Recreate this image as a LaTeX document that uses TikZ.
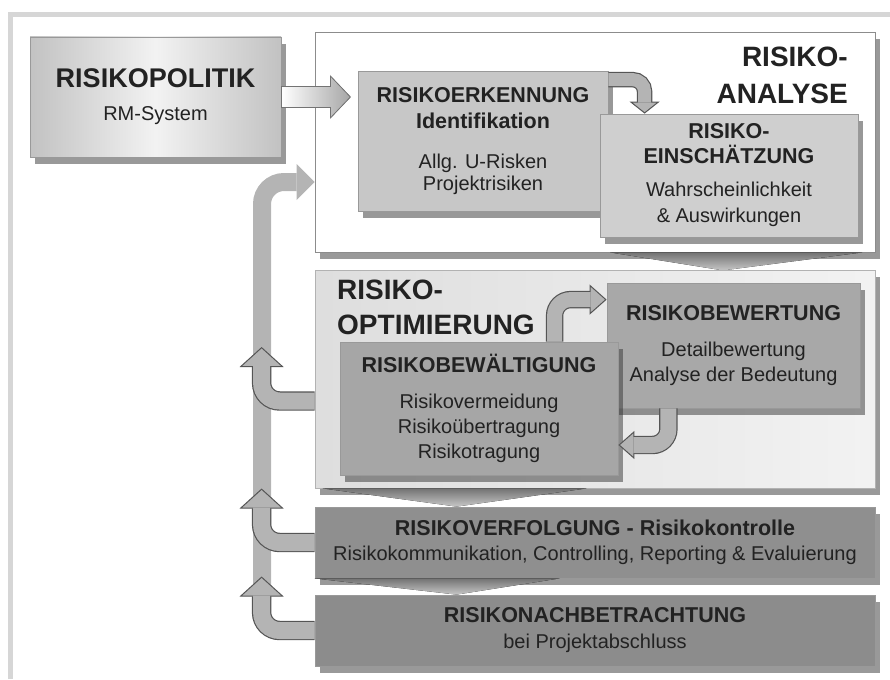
\documentclass[tikz,border=0pt]{standalone}
\usepackage{fontspec}
\setmainfont{Liberation Sans}
\usepackage{tikz}
\usetikzlibrary{arrows.meta, shadows, calc}

\definecolor{txtgray}{HTML}{222222}
\definecolor{rimgray}{HTML}{555555}
\definecolor{arrowgray}{HTML}{B4B4B4}
\definecolor{framegray}{HTML}{D6D6D6}

\tikzstyle{frame} = [line width=5pt, draw=framegray]
\tikzstyle{panel} = [rectangle, inner sep=0pt, draw=black!40, line width=0.8pt, drop shadow={shadow xshift=5pt, shadow yshift=-7pt, fill=black!80, opacity=0.5}]
\tikzstyle{box} = [panel, align=center, text=txtgray, font=\fontsize{20}{22}\selectfont]
\tikzstyle{title} = [inner sep=0pt, text=txtgray, font=\fontsize{28}{37}\selectfont\bfseries]
\tikzstyle{chevron} = [top color=black!55, bottom color=black!22]
\tikzstyle{feedback} = [line width=18pt, draw=arrowgray, rounded corners=22pt, -{Triangle[length=18pt, width=36pt, line width=0pt]}]
\tikzset{
  fatarrow/.style n args={3}{% shaft, head width, head length
    line width=#1, draw=arrowgray, shorten >=#3-1pt,
    preaction={draw=rimgray, line width=#1+2.4pt, shorten >=0pt,
      -{Triangle[length=#3, width=#2, fill=arrowgray, line width=1pt]}}}
}
\newcommand{\boxhead}[1]{{\fontsize{21.5}{22}\selectfont\bfseries #1}}

\begin{document}
\begin{tikzpicture}[x=1pt, y=-1pt]
  \useasboundingbox (0,0) rectangle (890,679);
  % Rahmen
  \draw [frame] (10.5,679) -- (10.5,14.5) -- (890,14.5);

  % Risikopolitik
  \node (pol) [box, minimum width=251pt, minimum height=120pt, left color=black!24, right color=black!24, middle color=black!5] at (155.5,97)
    {{\fontsize{27}{22}\selectfont\bfseries RISIKOPOLITIK}\\[11pt]RM-System};

  % Panels
  \node (ana) [panel, fill=white, draw=black!45, minimum width=560pt, minimum height=220pt] at (595,142) {};
  \fill [chevron] ([xshift=15pt]ana.south) -- ([xshift=-13pt]ana.south east) -- ([xshift=128pt,yshift=-18pt]ana.south) -- cycle;
  \node (opt) [panel, left color=black!13, right color=black!5, draw=black!30, minimum width=560pt, minimum height=218pt] at (595,379) {};
  \node (verf) [box, fill=black!44, minimum width=560pt, minimum height=71pt] at (595,542.5)
    {\boxhead{RISIKOVERFOLGUNG - Risikokontrolle}\\[3pt]Risikokommunikation, Controlling, Reporting \& Evaluierung};
  \fill [chevron] ([xshift=8pt]opt.south west) -- ([xshift=272pt]opt.south west) -- ([xshift=142pt]verf.north west) -- cycle;
  \node (nach) [box, fill=black!45, minimum width=560pt, minimum height=71pt] at (595,630.5)
    {\boxhead{RISIKONACHBETRACHTUNG}\\[4pt]bei Projektabschluss};
  \fill [chevron] (verf.south west) -- ([xshift=245pt]verf.south west) -- ([xshift=142pt]nach.north west) -- cycle;

  % Analyse
  \node (erk) [box, fill=black!22, minimum width=250pt, minimum height=140pt] at (483,141)
    {\boxhead{RISIKOERKENNUNG}\\[4pt]\boxhead{Identifikation}\\[18pt]Allg. U-Risken\\Projektrisiken};
  \node (ein) [box, fill=black!19, minimum width=258pt, minimum height=123pt] at (729,175.5)
    {\boxhead{RISIKO-}\\[3pt]\boxhead{EINSCHÄTZUNG}\\[11pt]Wahrscheinlichkeit\\[4pt]\& Auswirkungen};
  \node (anatitle) [title, anchor=north east, align=right] at (848,47) {RISIKO-\\ANALYSE};

  % Optimierung
  \node (bew) [box, fill=black!34, minimum width=253pt, minimum height=125pt] at (733.5,345.5)
    {\boxhead{RISIKOBEWERTUNG}\\[14pt]Detailbewertung\\[3pt]Analyse der Bedeutung};
  \node (bwa) [box, fill=black!35, minimum width=278pt, minimum height=133pt] at (479,408.5)
    {\boxhead{RISIKOBEWÄLTIGUNG}\\[14pt]Risikovermeidung\\[3pt]Risikoübertragung\\[3pt]Risikotragung};
  \node (opttitle) [title, anchor=north west, align=left, font=\fontsize{28}{35}\selectfont\bfseries] at (337,280) {RISIKO-\\OPTIMIERUNG};

  % Pfeile
  \filldraw [draw=black!55, line width=0.8pt, left color=white, right color=black!35]
    ([yshift=10.5pt]pol.east) -- +(49,0) -- +(49,-10.5) -- +(69,10.5) -- +(49,31.5) -- +(49,21) -- +(0,21) -- cycle;
  \draw [fatarrow={13pt}{30pt}{12pt}, rounded corners=12pt] ([yshift=-9pt]erk.north east) -| ([xshift=45pt]ein.north west);
  \draw [fatarrow={15pt}{30pt}{17pt}, rounded corners=16pt] ([xshift=215pt]bwa.north west) |- ([yshift=-17pt]bew.north west);
  \draw [fatarrow={16pt}{28pt}{16pt}, rounded corners=16pt] ([xshift=-192pt]bew.south east) |- ([yshift=-36.5pt]bwa.east);

  % Rueckkopplung
  \coordinate (fb) at (262,600);
  \draw [feedback] (fb) |- ([yshift=-40pt]ana.west);
  \draw [fatarrow={17pt}{44pt}{20pt}, rounded corners=18pt] ([yshift=-22pt]opt.west) -| ++(-53,-54);
  \draw [fatarrow={17pt}{44pt}{20pt}, rounded corners=18pt] (verf.west) -| ++(-53,-54);
  \draw [fatarrow={17pt}{44pt}{20pt}, rounded corners=18pt] (nach.west) -| ++(-53,-54);
\end{tikzpicture}
\end{document}
